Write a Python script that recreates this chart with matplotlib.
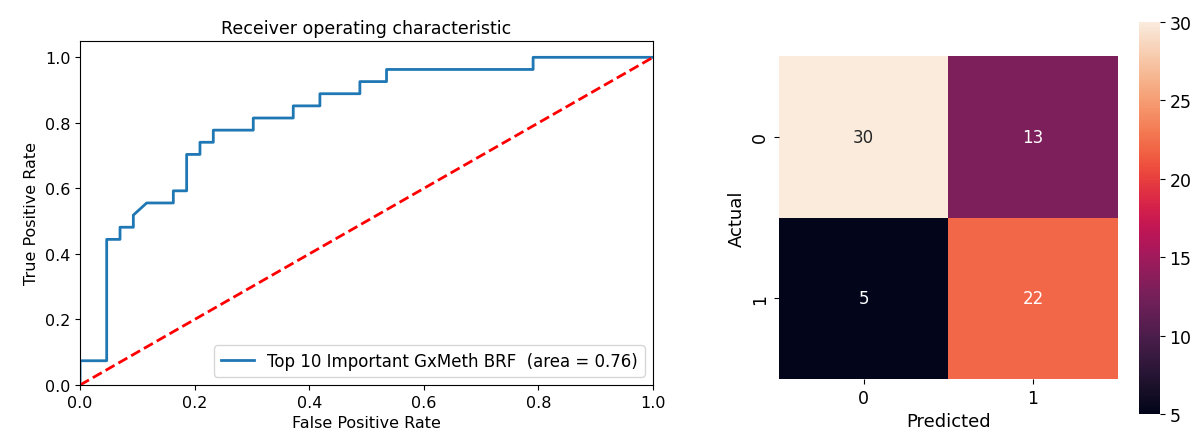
import matplotlib
matplotlib.use("Agg")
import matplotlib.pyplot as plt
import numpy as np
import seaborn as sns

# ROC curve step points (43 negatives, 27 positives)
fpr = [0, 0, 2/43, 2/43, 3/43, 3/43, 4/43, 4/43, 5/43, 7/43, 7/43, 8/43, 8/43,
       9/43, 9/43, 10/43, 10/43, 13/43, 13/43, 16/43, 16/43, 18/43, 18/43,
       21/43, 21/43, 23/43, 23/43, 34/43, 34/43, 1.0]
tpr = [0, 2/27, 2/27, 12/27, 12/27, 13/27, 13/27, 14/27, 15/27, 15/27, 16/27,
       16/27, 19/27, 19/27, 20/27, 20/27, 21/27, 21/27, 22/27, 22/27, 23/27,
       23/27, 24/27, 24/27, 25/27, 25/27, 26/27, 26/27, 1.0, 1.0]
roc_auc = 0.76
model_name = "Top 10 Important GxMeth BRF"

# confusion matrix
conf_mat = np.array([[30, 13],
                     [5, 22]])
class_labels = ["0", "1"]

plt.rcParams["font.size"] = 11.5

fig = plt.figure(figsize=(12, 4.35), dpi=100)

ax1 = fig.add_axes([0.0667, 0.1126, 0.4775, 0.791])
ax1.plot(fpr, tpr, color="#1f77b4", lw=2, label="%s  (area = %0.2f)" % (model_name, roc_auc))
ax1.plot([0, 1], [0, 1], "r--", lw=2)
ax1.set_xlim([0.0, 1.0])
ax1.set_ylim([0.0, 1.05])
ax1.set_xlabel("False Positive Rate")
ax1.set_ylabel("True Positive Rate")
ax1.set_title("Receiver operating characteristic", fontsize=12.5)
ax1.legend(loc="lower right", fontsize=12)

ax2 = fig.add_axes([0.649, 0.126, 0.2825, 0.7425])
cax = fig.add_axes([0.949, 0.046, 0.0175, 0.901])
sns.heatmap(conf_mat, annot=True, fmt="d", cmap="rocket", vmin=5, vmax=30,
            xticklabels=class_labels, yticklabels=class_labels,
            ax=ax2, cbar_ax=cax, annot_kws={"size": 12})
ax2.set_xlabel("Predicted", fontsize=13)
ax2.set_ylabel("Actual", fontsize=13)
ax2.tick_params(labelsize=12.5)
cax.tick_params(labelsize=12.5)

fig.savefig("out.png", dpi=100)
